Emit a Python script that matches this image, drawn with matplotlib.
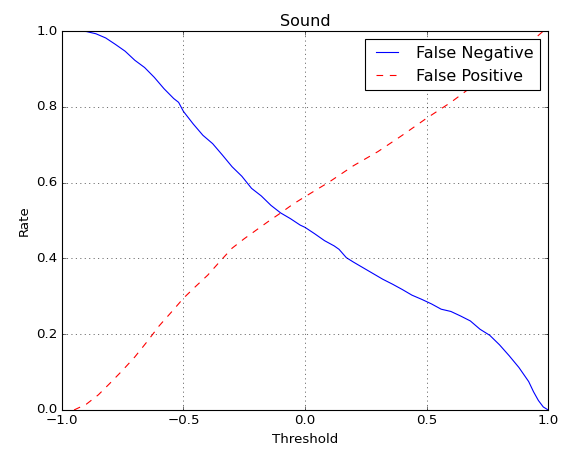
import numpy as np
import matplotlib
matplotlib.use('Agg')
import matplotlib.pyplot as plt

plt.style.use('classic')

# False Negative rate vs threshold
fn_x = [-1.0, -0.95, -0.9, -0.86, -0.82, -0.78, -0.74, -0.7, -0.66, -0.62, -0.58,
        -0.54, -0.52, -0.5, -0.46, -0.42, -0.38, -0.34, -0.3, -0.26, -0.22, -0.18,
        -0.14, -0.1, -0.06, -0.02, 0.0, 0.04, 0.08, 0.12, 0.14, 0.17, 0.2, 0.24, 0.28,
        0.32, 0.36, 0.4, 0.44, 0.48, 0.52, 0.56, 0.6, 0.64, 0.68, 0.72, 0.76,
        0.8, 0.84, 0.88, 0.92, 0.94, 0.96, 0.98, 1.0]
fn_y = [1.0, 1.0, 0.999, 0.993, 0.982, 0.965, 0.947, 0.923, 0.904, 0.878, 0.848,
        0.822, 0.812, 0.788, 0.755, 0.725, 0.703, 0.673, 0.642, 0.617, 0.585, 0.565,
        0.540, 0.520, 0.505, 0.488, 0.482, 0.465, 0.447, 0.433, 0.424, 0.402, 0.390, 0.375,
        0.360, 0.345, 0.332, 0.318, 0.303, 0.292, 0.280, 0.266, 0.260, 0.248, 0.235,
        0.213, 0.197, 0.172, 0.143, 0.112, 0.075, 0.048, 0.025, 0.008, 0.0]

# False Positive rate vs threshold
fp_x = [-0.95, -0.9, -0.85, -0.8, -0.75, -0.7, -0.65, -0.6, -0.55, -0.5, -0.45,
        -0.4, -0.35, -0.3, -0.25, -0.2, -0.15, -0.1, -0.05, 0.0, 0.1, 0.2, 0.3,
        0.4, 0.5, 0.6, 0.7, 0.8, 0.9, 0.98]
fp_y = [0.0, 0.015, 0.04, 0.072, 0.105, 0.14, 0.18, 0.222, 0.258, 0.295, 0.326,
        0.356, 0.392, 0.427, 0.452, 0.475, 0.498, 0.52, 0.543, 0.563, 0.602, 0.645,
        0.682, 0.725, 0.77, 0.812, 0.86, 0.91, 0.955, 1.0]

fig = plt.figure(figsize=(7.1, 5.6375), dpi=80)
fig.subplots_adjust(left=0.109, right=0.965, top=0.931, bottom=0.091)
ax = fig.add_subplot(111)

ax.plot(fn_x, fn_y, 'b-', label='False Negative')
ax.plot(fp_x, fp_y, 'r--', label='False Positive')

ax.set_xlim(-1, 1)
ax.set_ylim(0, 1)
ax.set_xticks([-1.0, -0.5, 0.0, 0.5, 1.0])
ax.set_yticks([0.0, 0.2, 0.4, 0.6, 0.8, 1.0])
ax.grid(True)
ax.set_title('Sound')
ax.set_xlabel('Threshold')
ax.set_ylabel('Rate')
ax.legend(loc='upper right')

fig.savefig('out.png', dpi=80)
